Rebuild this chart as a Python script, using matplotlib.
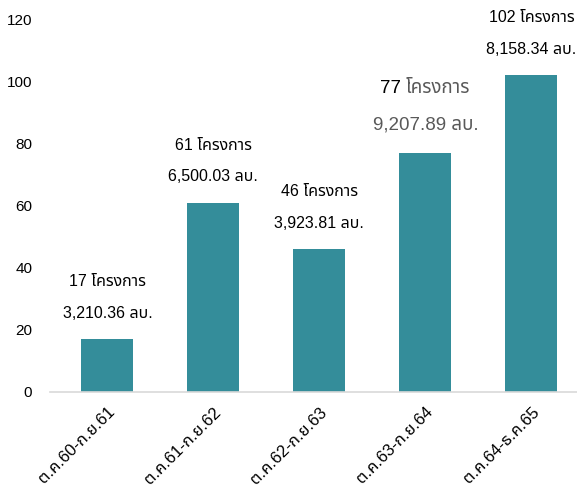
import matplotlib
matplotlib.use("Agg")
import matplotlib.pyplot as plt
from matplotlib.transforms import ScaledTranslation

plt.rcParams['font.family'] = ['Liberation Sans', 'Noto Sans Thai']

periods = ["ต.ค.60-ก.ย.61", "ต.ค.61-ก.ย.62", "ต.ค.62-ก.ย.63", "ต.ค.63-ก.ย.64", "ต.ค.64-ธ.ค.65"]
projects = [17, 61, 46, 77, 102]
budgets = ["3,210.36", "6,500.03", "3,923.81", "9,207.89", "8,158.34"]
yticks = [0, 20, 40, 60, 80, 100, 120]

bar_color = "#348d9a"

fig, ax = plt.subplots(figsize=(5.77, 4.88), dpi=100)
fig.subplots_adjust(left=0.087, right=1.0, top=0.96, bottom=0.197)

x = range(len(periods))
ax.bar(x, projects, width=0.49, color=bar_color, zorder=2)

# two label lines above each bar; the 4th one is bigger and grey
for i, (n, b) in enumerate(zip(projects, budgets)):
    if i == 3:
        # measure the whole line, then draw the number black and the word grey
        t = ax.text(i, n + 20.7, f"{n} โครงการ", ha="center", va="center",
                    fontsize=13.5, color="none")
        fig.canvas.draw()
        bb = t.get_window_extent().transformed(ax.transData.inverted())
        t.remove()
        ax.text(bb.x0, n + 20.7, f"{n}", ha="left", va="center",
                fontsize=13.5, color="#000000")
        ax.text(bb.x1, n + 20.7, "โครงการ", ha="right", va="center",
                fontsize=13.5, color="#595959")
        ax.text(i, n + 9.1, f"{b} ลบ.", ha="center", va="center",
                fontsize=13.5, color="#595959")
    else:
        ax.text(i, n + 18.5, f"{n} โครงการ", ha="center", va="center",
                fontsize=11.5, color="#000000")
        ax.text(i, n + 8.4, f"{b} ลบ.", ha="center", va="center",
                fontsize=11.5, color="#000000")

ax.set_xlim(-0.54, 4.43)
ax.set_ylim(0, 120)
ax.set_yticks(yticks)
ax.set_xticks(list(x))
ax.set_xticklabels(periods, rotation=45, ha="right", rotation_mode="anchor", fontsize=12)
shift = ScaledTranslation(-0.05, -0.08, fig.dpi_scale_trans)
for lab in ax.get_xticklabels():
    lab.set_transform(lab.get_transform() + shift)
ax.tick_params(axis="y", length=0, labelsize=11, pad=13)
ax.tick_params(axis="x", length=0, pad=9)
for s in ["top", "right", "left"]:
    ax.spines[s].set_visible(False)
ax.spines["bottom"].set_color("#d9d9d9")
ax.spines["bottom"].set_linewidth(1.2)

fig.savefig("out.png")
